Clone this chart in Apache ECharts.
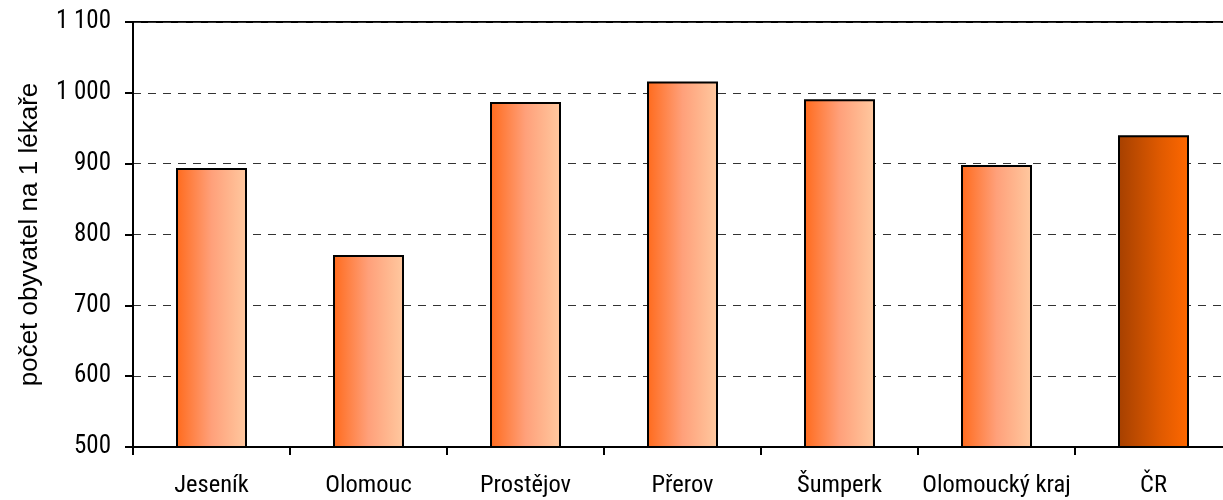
<!DOCTYPE html>
<html>
<head>
<meta charset="utf-8">
<script src="https://cdn.jsdelivr.net/npm/echarts@6/dist/echarts.min.js"></script>
<style>
    html, body { margin: 0; padding: 0; background: #fff; overflow: hidden; }
    /* plot runs a few px past the right edge, like the original */
    #chart { width: 1232px; height: 500px; }
</style>
</head>
<body>
<div id="chart"></div>
<script>
// data
const categories = ["Jeseník", "Olomouc", "Prostějov", "Přerov", "Šumperk", "Olomoucký kraj", "ČR"];
const values = [894, 771, 987, 1016, 991, 898, 940];
const yTicks = [500, 600, 700, 800, 900, 1000, 1100];

const narrowFont = "Roboto Condensed";

const orangeFill = new echarts.graphic.LinearGradient(0, 0, 1, 0, [
    { offset: 0, color: "#ff6a1c" },
    { offset: 0.5, color: "#ffa07a" },
    { offset: 1, color: "#ffc9a0" },
]);
const brownFill = new echarts.graphic.LinearGradient(0, 0, 1, 0, [
    { offset: 0, color: "#a54000" },
    { offset: 0.6, color: "#e05a00" },
    { offset: 1, color: "#ff6800" },
]);

const chart = echarts.init(document.getElementById("chart"));
const option = {
    backgroundColor: "#fff",
    animation: false,
    grid: {
        left: 133,
        right: 0,
        top: 22,
        bottom: 53,
        show: true,
        borderColor: "#000",
        borderWidth: 2,
        backgroundColor: "transparent",
    },
    xAxis: {
        type: "category",
        data: categories,
        axisLine: { lineStyle: { color: "#000", width: 2 } },
        axisTick: { show: true, inside: false, length: 8, lineStyle: { color: "#000", width: 2 } },
        axisLabel: {
            interval: 0,
            margin: 26,
            color: "#000",
            fontFamily: narrowFont,
            fontSize: 24.5,
        },
    },
    yAxis: {
        type: "value",
        min: yTicks[0],
        max: yTicks[yTicks.length - 1],
        interval: 100,
        name: "počet obyvatel na 1 lékaře",
        nameLocation: "middle",
        nameGap: 90,
        nameTextStyle: {
            color: "#000",
            fontFamily: "Liberation Sans",
            fontSize: 26,
        },
        axisLine: { show: true, lineStyle: { color: "#000", width: 2 } },
        axisTick: { show: true, length: 8, lineStyle: { color: "#000", width: 2 } },
        axisLabel: {
            margin: 22,
            color: "#000",
            fontFamily: narrowFont,
            fontSize: 25,
            formatter(v) {
                return v >= 1000 ? Math.floor(v / 1000) + " " + String(v % 1000).padStart(3, "0") : String(v);
            },
        },
        splitLine: {
            lineStyle: { type: [8, 7], color: "#333", width: 1 },
        },
    },
    series: [
        {
            type: "bar",
            barWidth: 71,
            data: values.map((v, i) => ({
                value: v,
                itemStyle: { color: i === values.length - 1 ? brownFill : orangeFill },
            })),
            itemStyle: { borderColor: "#000", borderWidth: 2 },
        },
    ],
};
chart.setOption(option);
</script>
</body>
</html>
